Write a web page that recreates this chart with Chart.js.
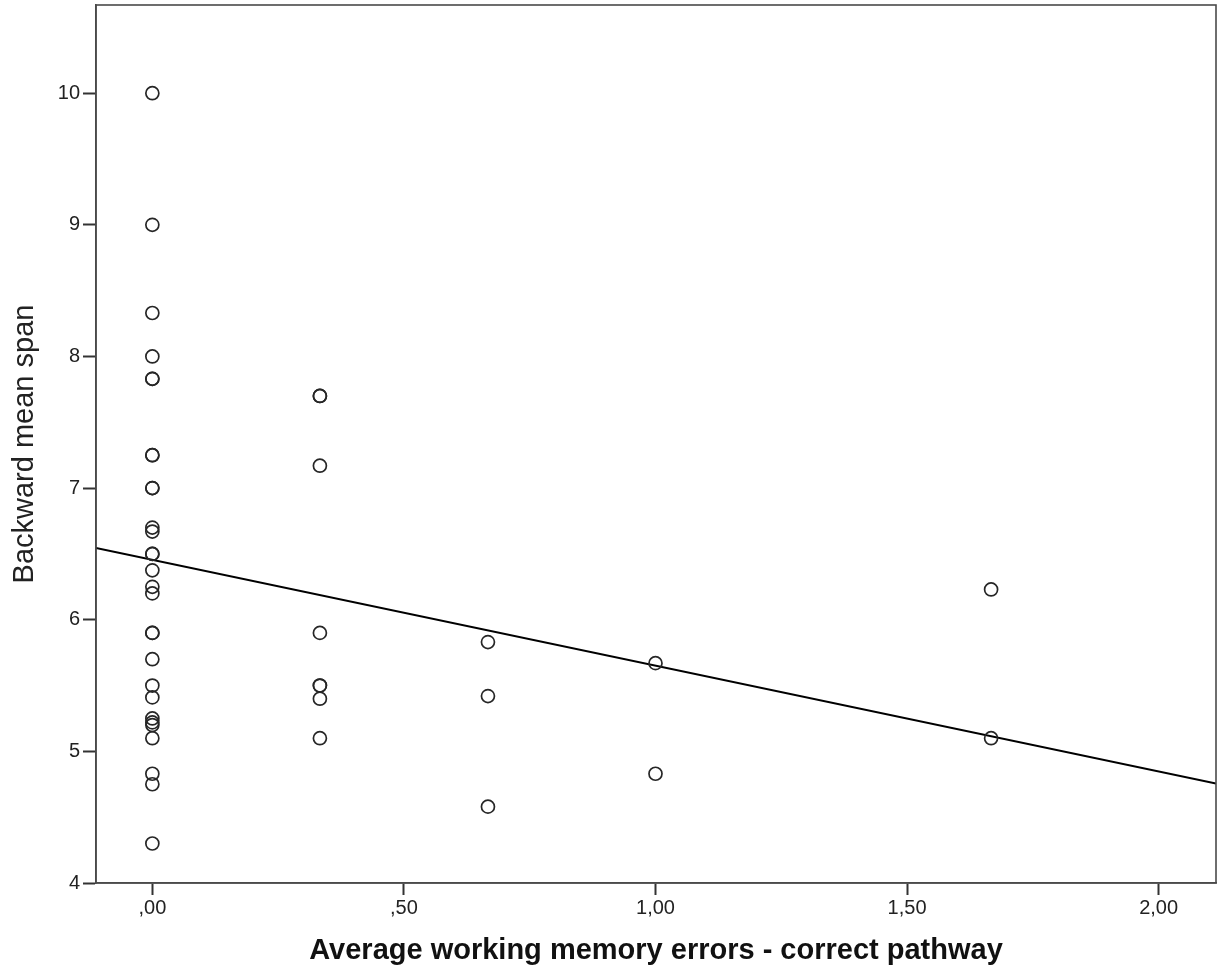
<!DOCTYPE html>
<html>
<head>
<meta charset="utf-8">
<script src="https://cdn.jsdelivr.net/npm/chart.js@4.4.1/dist/chart.umd.min.js"></script>
<style>
  html, body { margin: 0; padding: 0; background: #ffffff; }
  #wrap { width: 1220px; height: 974px; position: relative; }
</style>
</head>
<body>
<div id="wrap"><canvas id="c" width="1220" height="974"></canvas></div>
<script>
const errorsX = [
  0, 0, 0, 0, 0, 0, 0, 0, 0, 0, 0, 0, 0, 0, 0, 0, 0, 0, 0, 0, 0, 0, 0, 0, 0, 0, 0, 0, 0,
  0.333, 0.333, 0.333, 0.333, 0.333, 0.333, 0.333, 0.333,
  0.667, 0.667, 0.667,
  1.0, 1.0,
  1.667, 1.667
];
const spanY = [
  10, 9, 8.33, 8, 7.83, 7.83, 7.25, 7.25, 7, 7, 6.7, 6.67, 6.5, 6.5, 6.375, 6.25, 6.2, 5.9, 5.9, 5.7, 5.5, 5.41, 5.25, 5.22, 5.2, 5.1, 4.83, 4.75, 4.3,
  7.7, 7.7, 7.17, 5.9, 5.5, 5.5, 5.4, 5.1,
  5.83, 5.42, 4.58,
  5.67, 4.83,
  6.23, 5.1
];
// Fit line endpoints (read at the plot edges)
const fitX = [-0.112, 2.114];
const fitY = [6.546, 4.756];

const xTickValues = [0, 0.5, 1.0, 1.5, 2.0];
const xTickLabels = [',00', ',50', '1,00', '1,50', '2,00'];
const yTickValues = [4, 5, 6, 7, 8, 9, 10];
const yTickLabels = ['4', '5', '6', '7', '8', '9', '10'];

const xTitle = 'Average working memory errors - correct pathway';
const yTitle = 'Backward mean span';

const scatterPoints = errorsX.map((x, i) => ({ x: x, y: spanY[i] }));
const fitPoints = fitX.map((x, i) => ({ x: x, y: fitY[i] }));

const FONT = "'Liberation Sans', Arial, sans-serif";

const framePlugin = {
  id: 'frame',
  afterDatasetsDraw(chart) {
    const { ctx, chartArea: a } = chart;
    ctx.save();
    ctx.strokeStyle = '#4a4a4a';
    ctx.lineWidth = 1.6;
    ctx.strokeRect(a.left, a.top, a.right - a.left, a.bottom - a.top);
    ctx.restore();
  }
};

new Chart(document.getElementById('c'), {
  type: 'scatter',
  data: {
    datasets: [
      {
        label: 'Observed',
        data: scatterPoints,
        pointStyle: 'circle',
        pointRadius: 6.5,
        pointHoverRadius: 6.5,
        pointBorderWidth: 1.7,
        pointBorderColor: '#262626',
        pointBackgroundColor: 'rgba(0,0,0,0)',
        showLine: false,
        order: 1
      },
      {
        label: 'Linear fit',
        data: fitPoints,
        showLine: true,
        borderColor: '#000000',
        borderWidth: 2,
        pointRadius: 0,
        fill: false,
        tension: 0,
        order: 2
      }
    ]
  },
  options: {
    responsive: false,
    animation: false,
    devicePixelRatio: 1,
    layout: { autoPadding: false, padding: { left: 0, right: 4, top: 5, bottom: 0 } },
    plugins: {
      legend: { display: false },
      tooltip: { enabled: false },
      title: { display: false }
    },
    scales: {
      x: {
        type: 'linear',
        min: -0.112,
        max: 2.114,
        afterBuildTicks(scale) { scale.ticks = xTickValues.map(v => ({ value: v })); },
        afterFit(scale) {
          scale.height = 91;
          scale.paddingLeft = 0;
          scale.paddingRight = 0;
        },
        grid: {
          display: true,
          drawOnChartArea: false,
          drawTicks: true,
          tickLength: 12,
          tickWidth: 2,
          tickColor: '#333333'
        },
        border: { display: true, color: '#4a4a4a', width: 1.6 },
        ticks: {
          padding: 1,
          color: '#222222',
          font: { family: FONT, size: 20 },
          maxRotation: 0,
          callback(value) {
            const i = xTickValues.findIndex(v => Math.abs(v - value) < 1e-9);
            return i >= 0 ? xTickLabels[i] : '';
          }
        },
        title: {
          display: true,
          text: xTitle,
          color: '#111111',
          font: { family: FONT, size: 29, weight: 'bold' },
          padding: { top: 0, bottom: 6 }
        }
      },
      y: {
        type: 'linear',
        min: 4,
        max: 10.67,
        afterBuildTicks(scale) { scale.ticks = yTickValues.map(v => ({ value: v })); },
        afterFit(scale) {
          scale.width = 96;
          scale.paddingTop = 0;
          scale.paddingBottom = 0;
        },
        grid: {
          display: true,
          drawOnChartArea: false,
          drawTicks: true,
          tickLength: 13,
          tickWidth: 2,
          tickColor: '#333333'
        },
        border: { display: true, color: '#4a4a4a', width: 1.6 },
        ticks: {
          padding: 3,
          color: '#222222',
          font: { family: FONT, size: 20 },
          callback(value) {
            const i = yTickValues.findIndex(v => Math.abs(v - value) < 1e-9);
            return i >= 0 ? yTickLabels[i] : '';
          }
        },
        title: {
          display: true,
          text: yTitle,
          color: '#222222',
          font: { family: FONT, size: 29, weight: 'normal' },
          padding: { top: 8, bottom: 0 }
        }
      }
    }
  },
  plugins: [framePlugin]
});
</script>
</body>
</html>
